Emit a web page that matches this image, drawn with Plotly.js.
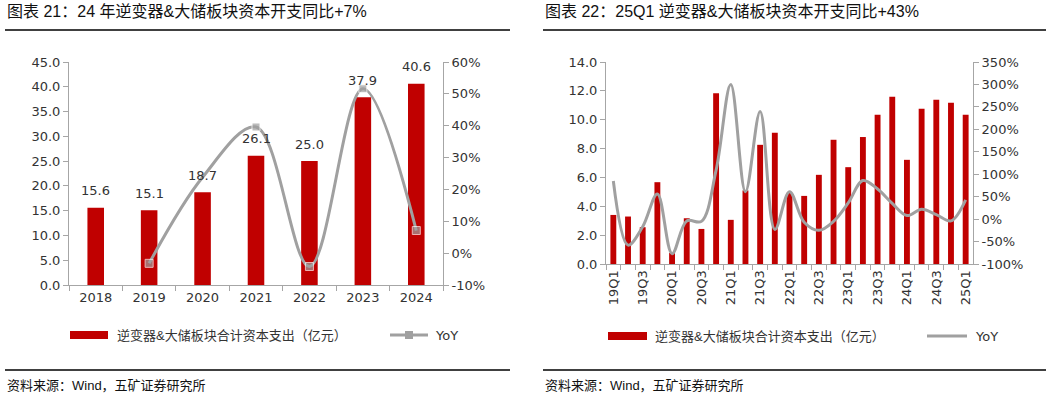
<!DOCTYPE html>
<html><head><meta charset="utf-8">
<script src="https://cdn.plot.ly/plotly-3.0.1.min.js"></script>
<style>html,body{margin:0;padding:0;background:#fff;} #chart{width:1061px;height:397px;}</style>
</head><body><div id="chart"></div>
<script>
// ---------- data ----------
const years = ['2018','2019','2020','2021','2022','2023','2024'];
const annualCapex = [15.6, 15.1, 18.7, 26.1, 25.0, 37.9, 40.6];
const annualYoY = [null, -3.2, 23.8, 39.6, -4.2, 51.6, 7.1];

const quarters = ['19Q1','19Q2','19Q3','19Q4','20Q1','20Q2','20Q3','20Q4','21Q1','21Q2','21Q3','21Q4',
  '22Q1','22Q2','22Q3','22Q4','23Q1','23Q2','23Q3','23Q4','24Q1','24Q2','24Q3','24Q4','25Q1'];
const quarterTickLabels = ['19Q1','','19Q3','','20Q1','','20Q3','','21Q1','','21Q3','',
  '22Q1','','22Q3','','23Q1','','23Q3','','24Q1','','24Q3','','25Q1'];
const quarterlyCapex = [3.40, 3.29, 2.55, 5.67, 0.76, 3.17, 2.43, 11.83, 3.06, 5.10, 8.26, 9.10,
  4.93, 4.72, 6.18, 8.61, 6.71, 8.80, 10.35, 11.60, 7.22, 10.76, 11.39, 11.18, 10.35];
const quarterlyYoY = [85, -58, -17, 56, -77, -4, -5, 109, 300, 61, 240, -23,
  61, -7, -25, -5, 36, 86, 67, 35, 8, 22, 10, -4, 43];

const annualYoYTicks = [-10, 0, 10, 20, 30, 40, 50, 60];
const annualYoYTickText = ['-10%','0%','10%','20%','30%','40%','50%','60%'];
const quarterlyYoYTicks = [-100, -50, 0, 50, 100, 150, 200, 250, 300, 350];
const quarterlyYoYTickText = ['-100%','-50%','0%','50%','100%','150%','200%','250%','300%','350%'];

const capexName = '逆变器&大储板块合计资本支出（亿元）';
const yoyName = 'YoY';
const title1 = '图表 21：24 年逆变器&大储板块资本开支同比+7%';
const title2 = '图表 22：25Q1 逆变器&大储板块资本开支同比+43%';
const sourceText = '资料来源：Wind，五矿证券研究所';

// ---------- styles ----------
const W = 1061, H = 397;
const px = x => x / W;
const py = y => 1 - y / H;
const RED = '#C00000';
const GREY = '#A0A0A0';
const AXIS = '#A6A6A6';
const TXT = '#333333';
const NUMFONT = 'DejaVu Sans, Noto Sans CJK SC, sans-serif';
const CJKFONT = 'Liberation Sans, Noto Sans CJK SC, sans-serif';

const traces = [
  {type:'bar', x: years, y: annualCapex, xaxis:'x', yaxis:'y', name: capexName,
   marker:{color: RED}, width: 0.31, showlegend:false, hoverinfo:'skip'},
  {type:'scatter', mode:'lines+markers', x: years, y: annualYoY, xaxis:'x', yaxis:'y2', name: yoyName,
   line:{color: GREY, width: 3, shape:'spline', smoothing: 1}, connectgaps:false,
   marker:{symbol:'square', color: GREY, size:[8,8,0,8,8,8,8]}, showlegend:false, hoverinfo:'skip'},
  {type:'bar', x: quarters, y: quarterlyCapex, xaxis:'x2', yaxis:'y3', name: capexName,
   marker:{color: RED}, width: 0.4, showlegend:false, hoverinfo:'skip'},
  {type:'scatter', mode:'lines', x: quarters, y: quarterlyYoY, xaxis:'x2', yaxis:'y4', name: yoyName,
   line:{color: GREY, width: 3, shape:'spline', smoothing: 1}, showlegend:false, hoverinfo:'skip'}
];

const axBase = {showline:true, linecolor: AXIS, linewidth:1, ticks:'outside', ticklen:5, tickcolor: AXIS,
  showgrid:false, zeroline:false, tickfont:{family: NUMFONT, size:13, color: TXT}, fixedrange:true};

const annotations = [];
// bar value labels (category index on the x axis)
years.forEach((yr, i) => {
  annotations.push({xref:'x', yref:'y', x: i, y: annualCapex[i], text: annualCapex[i].toFixed(1),
    showarrow:false, yanchor:'middle', yshift:17, font:{family: NUMFONT, size:13, color: TXT}});
});
// titles & sources
[[5, title1],[543, title2]].forEach(([x,t]) => annotations.push({xref:'paper', yref:'paper', x: px(x), y: py(12),
  xanchor:'left', yanchor:'middle', text: t, showarrow:false, font:{family: CJKFONT, size:16, color:'#111'}}));
[[5],[543]].forEach(([x]) => annotations.push({xref:'paper', yref:'paper', x: px(x), y: py(385),
  xanchor:'left', yanchor:'middle', text: sourceText, showarrow:false, font:{family: CJKFONT, size:13, color:'#111'}}));
// legends
[[115, 433, 335],[653, 973, 336]].forEach(([tx, ty, y]) => {
  annotations.push({xref:'paper', yref:'paper', x: px(tx), y: py(y), xanchor:'left', yanchor:'middle',
    text: capexName, showarrow:false, font:{family: CJKFONT, size:13, color: TXT}});
  annotations.push({xref:'paper', yref:'paper', x: px(ty), y: py(y), xanchor:'left', yanchor:'middle',
    text: yoyName, showarrow:false, font:{family: NUMFONT, size:13, color: TXT}});
});

const shapes = [];
[[5,510],[543,1046]].forEach(([a,b]) => {
  shapes.push({type:'line', xref:'paper', yref:'paper', x0: px(a), x1: px(b), y0: py(30), y1: py(30), line:{color:'#000', width:1.6}});
  shapes.push({type:'line', xref:'paper', yref:'paper', x0: px(a), x1: px(b), y0: py(370), y1: py(370), line:{color:'#000', width:1.6}});
});
// legend symbols
shapes.push({type:'rect', xref:'paper', yref:'paper', x0: px(70), x1: px(108), y0: py(339), y1: py(331), fillcolor: RED, line:{width:0}});
shapes.push({type:'line', xref:'paper', yref:'paper', x0: px(390), x1: px(428), y0: py(335), y1: py(335), line:{color: GREY, width:3}});
shapes.push({type:'rect', xref:'paper', yref:'paper', x0: px(405), x1: px(413), y0: py(339), y1: py(331), fillcolor: GREY, line:{width:0}});
shapes.push({type:'rect', xref:'paper', yref:'paper', x0: px(608), x1: px(647), y0: py(340), y1: py(332), fillcolor: RED, line:{width:0}});
shapes.push({type:'line', xref:'paper', yref:'paper', x0: px(927), x1: px(967), y0: py(336), y1: py(336), line:{color: GREY, width:3}});

const layout = {
  width: W, height: H, margin:{l:0, r:0, t:0, b:0}, paper_bgcolor:'#fff', plot_bgcolor:'rgba(0,0,0,0)',
  showlegend:false, bargap: 0.5,
  xaxis: Object.assign({}, axBase, {domain:[px(69), px(443)], anchor:'y', type:'category', tickson:'boundaries',
    categoryorder:'array', categoryarray: years, range:[-0.5, years.length - 0.5], autorange:false, tickangle:0}),
  yaxis: Object.assign({}, axBase, {domain:[py(285), py(62)], anchor:'x', range:[0,45], dtick:5, tickformat:'.1f'}),
  yaxis2: Object.assign({}, axBase, {overlaying:'y', side:'right', anchor:'x', range:[-10,60],
    tickmode:'array', tickvals: annualYoYTicks, ticktext: annualYoYTickText}),
  xaxis2: Object.assign({}, axBase, {domain:[px(606), px(973)], anchor:'y3', type:'category', tickson:'boundaries',
    categoryorder:'array', categoryarray: quarters, range:[-0.5, quarters.length - 0.5], autorange:false,
    tickmode:'array', tickvals: quarters, ticktext: quarterTickLabels, tickangle:-90}),
  yaxis3: Object.assign({}, axBase, {domain:[py(264), py(62)], anchor:'x2', range:[0,14], dtick:2, tickformat:'.1f'}),
  yaxis4: Object.assign({}, axBase, {overlaying:'y3', side:'right', anchor:'x2', range:[-100,350],
    tickmode:'array', tickvals: quarterlyYoYTicks, ticktext: quarterlyYoYTickText}),
  annotations: annotations, shapes: shapes
};

Plotly.newPlot('chart', traces, layout, {displayModeBar:false, staticPlot:true});
</script>
</body></html>
